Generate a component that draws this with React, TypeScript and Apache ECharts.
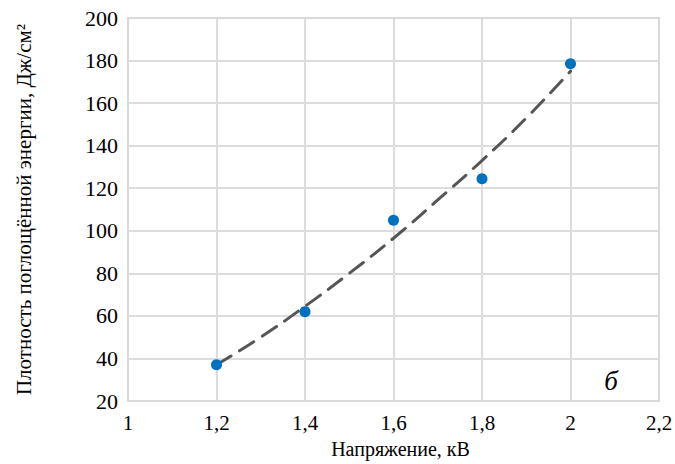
import React, { useEffect, useRef } from "react";
import * as echarts from "echarts";

const voltage = [1.2, 1.4, 1.6, 1.8, 2.0];
const density = [37, 62, 105, 124.5, 178.5];

const trendX = [1.2, 1.3, 1.4, 1.5, 1.6, 1.7, 1.8, 1.9, 2.0];
const trendY = [37, 50, 64.5, 80, 96.5, 114.5, 133, 153, 175];

const xTitle = "Напряжение, кВ";
const yTitle = "Плотность поглощённой энергии, Дж/см²";
const panelLetter = "б";

const FONT = "Liberation Serif, DejaVu Serif";

export default function App() {
  const ref = useRef<HTMLDivElement>(null);
  useEffect(() => {
    if (!ref.current) return;
    const chart = echarts.init(ref.current, null, { renderer: "svg" });
    chart.setOption({
      animation: false,
      backgroundColor: "#ffffff",
      textStyle: { fontFamily: FONT },
      grid: { left: 128, right: 16, top: 18, bottom: 63, containLabel: false, outerBoundsMode: "none" },
      xAxis: {
        type: "value",
        min: 1,
        max: 2.2,
        interval: 0.2,
        name: xTitle,
        nameLocation: "middle",
        nameGap: 38,
        nameTextStyle: { fontFamily: FONT, fontSize: 20, color: "#000", padding: [0, 0, 0, 14] },
        axisLine: { show: true, lineStyle: { color: "#d9d9d9", width: 2 } },
        axisTick: { show: false },
        axisLabel: {
          fontFamily: FONT,
          fontSize: 21,
          color: "#000",
          margin: 11,
          formatter: (v: number) => String(Math.round(v * 10) / 10).replace(".", ","),
        },
        splitLine: { show: true, lineStyle: { color: "#dcdcdc", width: 2 } },
      },
      yAxis: {
        type: "value",
        min: 20,
        max: 200,
        interval: 20,
        name: yTitle,
        nameLocation: "middle",
        nameGap: 94,
        nameRotate: 90,
        nameTextStyle: { fontFamily: FONT, fontSize: 21, color: "#000" },
        axisLine: { show: true, lineStyle: { color: "#d9d9d9", width: 2 } },
        axisTick: { show: false },
        axisLabel: { fontFamily: FONT, fontSize: 22, color: "#000", margin: 10 },
        splitLine: { show: true, lineStyle: { color: "#dcdcdc", width: 2 } },
      },
      graphic: [
        {
          type: "rect",
          shape: { x: 128, y: 18, width: 531, height: 383 },
          style: { fill: "none", stroke: "#d9d9d9", lineWidth: 2 },
          silent: true,
          z: 1,
        },
        {
          type: "text",
          x: 611,
          y: 381,
          style: {
            text: panelLetter,
            fontFamily: FONT,
            fontStyle: "italic",
            fontSize: 27,
            fill: "#000",
            align: "center",
            verticalAlign: "middle",
          },
        },
      ],
      series: [
        {
          type: "line",
          data: trendX.map((x, i) => [x, trendY[i]]),
          smooth: true,
          showSymbol: false,
          lineStyle: { color: "#555555", width: 3, type: [17, 10], cap: "round" },
          z: 2,
        },
        {
          type: "scatter",
          data: voltage.map((x, i) => [x, density[i]]),
          symbolSize: 11,
          itemStyle: { color: "#0070C0", opacity: 1 },
          z: 3,
        },
      ],
    });
    return () => chart.dispose();
  }, []);
  return <div ref={ref} style={{ width: 675, height: 464, position: "absolute", left: 0, top: 0 }} />;
}
